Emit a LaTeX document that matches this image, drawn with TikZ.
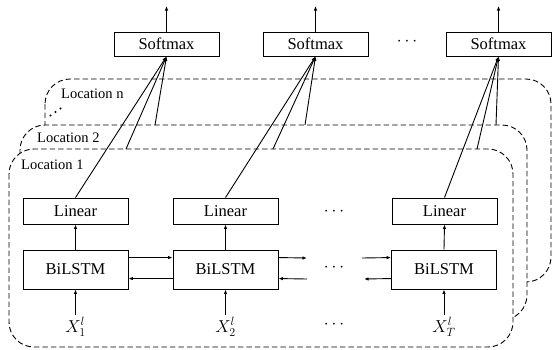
\documentclass[tikz,border=0pt]{standalone}
\usepackage{fontspec}
\setmainfont{Liberation Serif}
\usetikzlibrary{arrows.meta,calc}
\begin{document}
\begin{tikzpicture}[x=1pt,y=-1pt,
  box/.style={draw,line width=0.9pt,minimum width=105pt,inner sep=0pt,font=\fontsize{16.5}{18}\selectfont,fill=white},
  card/.style={draw,dash pattern=on 5.5pt off 3pt,line width=0.9pt,rounded corners=25pt,fill=white},
  arr/.style={line width=0.9pt,-{Latex[length=4.5pt,width=3.5pt]}},
  loclab/.style={anchor=west,inner sep=0pt,font=\fontsize{14.5}{16}\selectfont},
  dotsnode/.style={inner sep=0pt,font=\fontsize{16}{18}\selectfont},
  inp/.style={inner sep=2pt,font=\fontsize{17}{19}\selectfont}
]
\useasboundingbox (0,0) rectangle (552,349);
% stacked location cards
\draw[card] (45,79) rectangle (551,282);
\draw[card] (20,125) rectangle (527,320);
\draw[card] (9,149) rectangle (513,347);
\node[loclab] (locn) at (61,94) {Location n};
\node[loclab] (loc2) at (37,138) {Location 2};
\node[loclab] (loc1) at (21,165) {Location 1};
\fill (50.5,115.5) circle (1.2pt) (55.5,112) circle (1.2pt) (60.5,108.5) circle (1.2pt);
% softmax row
\node[box,minimum height=24pt] (s1) at (166.5,44) {Softmax};
\node[box,minimum height=24pt] (s2) at (315.5,44) {Softmax};
\node[box,minimum height=24pt] (s3) at (498.5,44) {Softmax};
\node[dotsnode] (d0) at (407,42) {$\cdots$};
\coordinate (o1) at (166.5,6);
\coordinate (o2) at (315.5,6);
\coordinate (o3) at (498.5,6);
\draw[arr] (s1.north) -- (o1);
\draw[arr] (s2.north) -- (o2);
\draw[arr] (s3.north) -- (o3);
% linear row
\node[box,minimum height=26pt] (l1) at (75.5,211) {Linear};
\node[box,minimum height=26pt] (l2) at (225.5,211) {Linear};
\node[box,minimum height=26pt] (l3) at (444.5,211) {Linear};
\node[dotsnode] (d1) at (334,212) {$\cdots$};
% bilstm row
\node[box,minimum height=39pt] (b1) at (75.5,269.5) {BiLSTM};
\node[box,minimum height=39pt] (b2) at (225.5,269.5) {BiLSTM};
\node[box,minimum height=39pt] (b3) at (444,269.5) {BiLSTM};
\node[dotsnode] (d2) at (334,268) {$\cdots$};
% inputs
\node[inp] (x1) at (75.5,327) {$X_1^l$};
\node[inp] (x2) at (225.5,327) {$X_2^l$};
\node[inp] (x3) at (444,327) {$X_T^l$};
\node[dotsnode] (d3) at (334,325) {$\cdots$};
\draw[arr] (x1.north) -- (b1.south);
\draw[arr] (x2.north) -- (b2.south);
\draw[arr] (x3.north) -- (b3.south);
\draw[arr] (b1.north) -- (l1.south);
\draw[arr] (b2.north) -- (l2.south);
\draw[arr] (b3.north) -- (l3.south);
% recurrent connections
\draw[arr] ($(b1.north east)+(0,8)$) -- ($(b2.north west)+(0,8)$);
\draw[arr] ($(b2.north west)+(0,29)$) -- ($(b1.north east)+(0,29)$);
\coordinate (fo) at (307,258);
\coordinate (bo) at (307,279);
\coordinate (fi) at (362,258);
\coordinate (bi) at (364,279);
\draw[arr] ($(b2.north east)+(0,8)$) -- (fo);
\draw[arr] (bo) -- ($(b2.north east)+(0,29)$);
\draw[arr] (fi) -- ($(b3.north west)+(0,8)$);
\draw[arr] ($(b3.north west)+(0,29)$) -- (bi);
% connections to softmax
\coordinate (p12) at (126,149);
\coordinate (p1n) at (155,125);
\coordinate (p22) at (273,149);
\coordinate (p2n) at (305,125);
\coordinate (p32) at (477,149);
\coordinate (p3n) at (496,125);
\draw[arr] (l1.north) -- (s1.south);
\draw[arr] (p12) -- (s1.south);
\draw[arr] (p1n) -- (s1.south);
\draw[arr] (l2.north) -- (s2.south);
\draw[arr] (p22) -- (s2.south);
\draw[arr] (p2n) -- (s2.south);
\draw[arr] (l3.north) -- (s3.south);
\draw[arr] (p32) -- (s3.south);
\draw[arr] (p3n) -- (s3.south);
\end{tikzpicture}
\end{document}
